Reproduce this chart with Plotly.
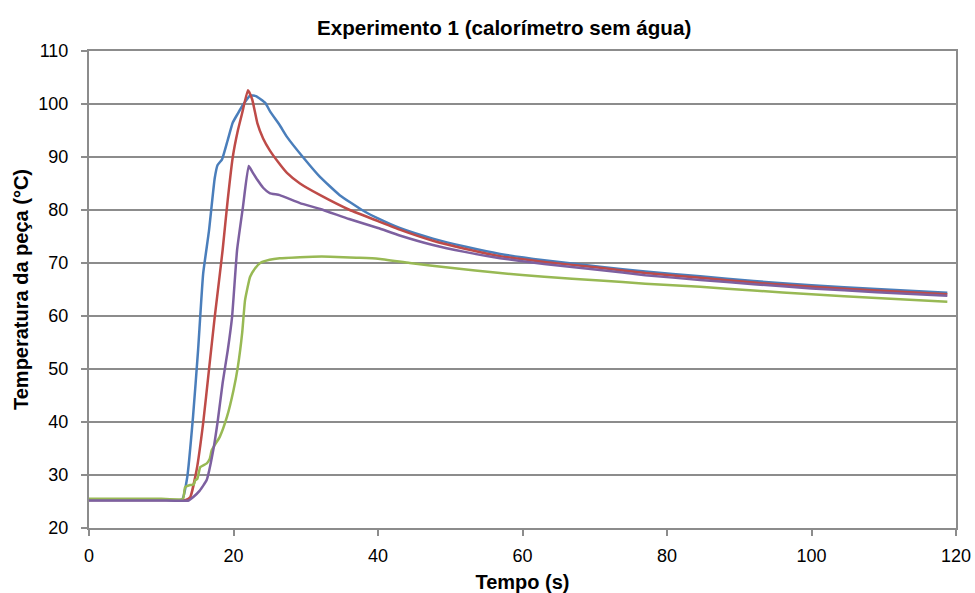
import plotly.graph_objects as go

# Blue series
t_blue = [0, 5, 10, 12.9, 13.6, 14.4, 15.1, 15.8, 16.6, 17.4, 17.8, 18.4, 19.2, 19.9, 20.6, 21.3,
          22.3, 23.1, 24.4, 25.1, 26.4, 27.4, 29.6, 32, 34.7, 37.9, 40, 43, 47.6, 52, 56.9, 63,
          70.7, 77, 84.6, 92, 100, 109, 118.8]
y_blue = [25.3, 25.3, 25.3, 25.4, 29.6, 41, 53.6, 68, 76, 86, 88.5, 89.5, 93.2, 96.5, 98.2, 99.8,
          101.6, 101.5, 100.2, 98.5, 96, 93.8, 90, 86.2, 82.8, 79.9, 78.4, 76.6, 74.6, 73.1, 71.7, 70.5,
          69.3, 68.4, 67.5, 66.6, 65.8, 65.1, 64.4]

# Red series
t_red = [0, 5, 10, 13.4, 14.0, 14.9, 15.8, 16.6, 17.4, 18.1, 18.5, 19.2, 19.9, 20.6, 21.2, 22.0,
         22.6, 23.3, 24.1, 25.0, 26.2, 27.4, 29.2, 32, 36.1, 40, 43, 47.6, 52, 56.9, 63, 70.7,
         77, 84.6, 92, 100, 109, 118.8]
y_red = [25.3, 25.3, 25.3, 25.3, 25.8, 31, 39.8, 49.8, 59.8, 67.8, 72.5, 81.9, 90, 95, 98.3, 102.6,
         100.8, 96.4, 93.5, 91.3, 89, 87, 85.0, 82.8, 80.0, 77.9, 76.3, 74.2, 72.7, 71.3, 70.2, 69.1,
         68.1, 67.2, 66.3, 65.5, 64.8, 64.1]

# Green series
t_green = [0, 5, 10, 13.0, 13.3, 14.0, 14.5, 14.7, 15.0, 15.4, 16.3, 16.7, 17.0, 18.1, 19.1, 20.0,
           20.6, 21.2, 21.6, 22.3, 23.0, 23.7, 25, 26.4, 29.2, 31, 33.4, 37, 40, 44.4, 50, 56.9,
           63, 70.7, 77, 84.6, 92, 100, 109, 118.8]
y_green = [25.5, 25.5, 25.5, 25.5, 27.7, 28.1, 28.2, 29, 29.3, 31.5, 32.2, 33, 34.7, 37.2, 41, 46,
           50.4, 56.8, 63, 67.4, 69, 70, 70.6, 70.9, 71.1, 71.2, 71.2, 71.0, 70.8, 70.0, 69.1, 68.1,
           67.4, 66.7, 66.1, 65.5, 64.8, 64.1, 63.4, 62.7]

# Purple series
t_purple = [0, 5, 10, 13.8, 14.4, 15.3, 16.3, 17.2, 17.8, 18.5, 19.2, 19.8, 20.5, 21.3, 22.1, 22.6,
            23.3, 24.1, 25.0, 26.4, 29.2, 32, 36, 40, 43, 47.6, 52, 56.9, 63, 70.7, 77, 84.6,
            92, 100, 109, 118.8]
y_purple = [25.2, 25.2, 25.2, 25.2, 25.8, 27, 29.1, 34.7, 40, 47.4, 53.5, 59.8, 72.5, 80.5, 88.3, 87.2,
            85.7, 84.2, 83.2, 82.8, 81.3, 80.2, 78.3, 76.6, 75.2, 73.4, 72.1, 70.9, 69.8, 68.7, 67.7, 66.8,
            66.0, 65.2, 64.5, 63.8]

x_ticks = [0, 20, 40, 60, 80, 100, 120]
y_ticks = [20, 30, 40, 50, 60, 70, 80, 90, 100, 110]

title_text = "Experimento 1 (calorímetro sem água)"
x_title = "Tempo (s)"
y_title = "Temperatura da peça (°C)"

series = [
    (t_blue, y_blue, "#4A7EBB"),
    (t_red, y_red, "#BE4B48"),
    (t_green, y_green, "#98B954"),
    (t_purple, y_purple, "#7D60A0"),
]

fig = go.Figure()
for t, y, c in series:
    fig.add_trace(go.Scatter(x=t, y=y, mode="lines", line=dict(color=c, width=2.5, shape="spline", smoothing=0.4),
                             showlegend=False, hoverinfo="skip"))

FONT = "Liberation Sans, Arial, sans-serif"
GRID = "#8C8C8C"

fig.update_layout(
    width=975, height=593,
    margin=dict(l=89, r=19, t=51, b=65, autoexpand=False),
    paper_bgcolor="white", plot_bgcolor="white",
    font=dict(family=FONT, color="black", size=18),
    annotations=[dict(text="<b>" + title_text + "</b>",
                      x=(504 - 89) / 867, xref="paper",
                      y=1 + (51 - 28) / 477, yref="paper", yanchor="middle",
                      showarrow=False, font=dict(size=20.6, family=FONT, color="black"))],
)

fig.update_xaxes(
    range=[0, 120], tickvals=x_ticks, ticktext=[str(v) for v in x_ticks],
    showgrid=False, zeroline=False, automargin=False,
    showline=True, linecolor=GRID, linewidth=2, mirror=True,
    ticks="outside", ticklen=6, tickcolor=GRID, tickwidth=2,
    ticklabelstandoff=4,
    tickfont=dict(size=18, family=FONT, color="black"),
    title=dict(text="<b>" + x_title + "</b>", font=dict(size=20, family=FONT, color="black"), standoff=13),
)
fig.update_yaxes(
    range=[20, 110], tickvals=y_ticks, ticktext=[str(v) for v in y_ticks],
    showgrid=True, gridcolor=GRID, gridwidth=2, zeroline=False, automargin=False,
    showline=True, linecolor=GRID, linewidth=2, mirror=True,
    ticks="outside", ticklen=6, tickcolor=GRID, tickwidth=2,
    ticklabelstandoff=9,
    tickfont=dict(size=18, family=FONT, color="black"),
    title=dict(text="<b>" + y_title + "</b>", font=dict(size=20, family=FONT, color="black"), standoff=4),
)

fig.write_html("out.html")
